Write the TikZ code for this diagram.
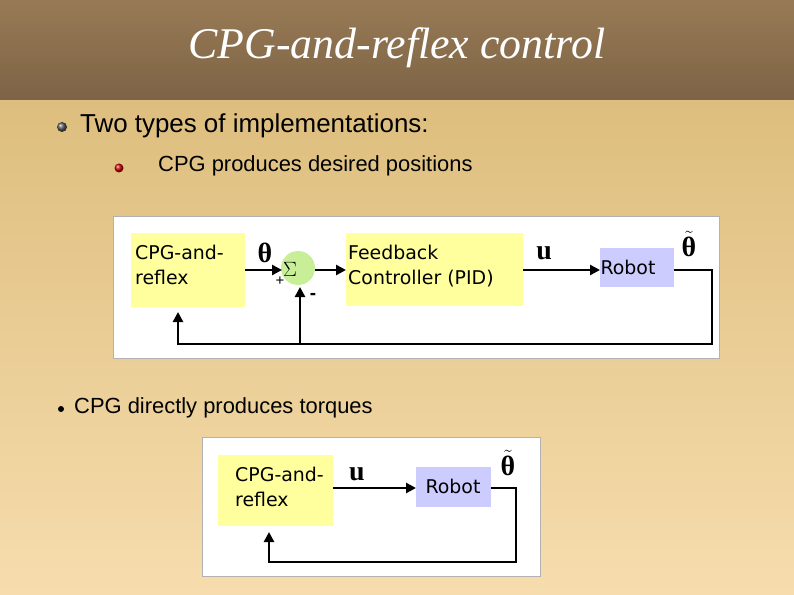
\documentclass[tikz,border=0pt]{standalone}
\usepackage{amsmath}
\usepackage{fontspec}
\setmainfont{Liberation Sans}
\newfontfamily\titlefont{Liberation Serif}
\newfontfamily\dvs{DejaVu Sans}
\usetikzlibrary{arrows.meta}
\definecolor{hdtop}{HTML}{987A55}
\definecolor{hdbot}{HTML}{7D6446}
\definecolor{bdtop}{HTML}{DDBE7E}
\definecolor{bdbot}{HTML}{F7DDAE}
\definecolor{boxy}{HTML}{FFFF9E}
\definecolor{sumg}{HTML}{C8EE98}
\definecolor{robb}{HTML}{CCCCFF}
\newcommand{\thb}{\text{\titlefont\bfseries θ}}
\tikzset{
  blk/.style={inner sep=0pt,font=\dvs\fontsize{19}{25}\selectfont,align=left},
  sig/.style={line width=2.6pt,-{Triangle[length=10bp,width=10bp]}},
  wire/.style={line width=2.6pt},
  lab/.style={font=\titlefont\bfseries\fontsize{28}{28}\selectfont},
  panel/.style={fill=white,draw=gray!60,line width=1pt}
}
\begin{document}
\begin{tikzpicture}[x=1bp,y=-1bp]
\useasboundingbox (0,0) rectangle (794,595);
\shade[top color=bdtop,bottom color=bdbot] (0,100) rectangle (794,595);
\shade[top color=hdtop,bottom color=hdbot] (0,0) rectangle (794,100);
\node[text=white,font=\titlefont\itshape\fontsize{44}{44}\selectfont] (title) at (397,48) {CPG-and-reflex control};
% bullets
\shade[ball color=gray!70!black] (62,127) circle (5);
\node[anchor=west,inner sep=0pt,font=\fontsize{26}{26}\selectfont] (b1) at (80,126) {Two types of implementations:};
\shade[ball color=red!80!black] (119,168) circle (4.5);
\node[anchor=west,inner sep=0pt,font=\fontsize{22}{22}\selectfont] (b2) at (158,166) {CPG produces desired positions};
\fill (61,409) circle (3);
\node[anchor=west,inner sep=0pt,font=\fontsize{22}{22}\selectfont] (b3) at (74,408) {CPG directly produces torques};
% diagram 1
\draw[panel] (113,216) rectangle (719,358);
\fill[boxy] (131,233) rectangle (245,307);
\node[blk,anchor=north west] (cpg1) at (135,245) {CPG-and-\\reflex};
\coordinate (cpg1r) at (245,270);
\coordinate (cpg1b) at (178,312);
\fill[sumg] (298,268) circle (17);
\node[inner sep=0pt,font=\fontsize{22}{22}\selectfont] (sum) at (290,269) {$\Sigma$};
\node[font=\fontsize{15}{15}\selectfont] (plus) at (280,281) {+};
\node[font=\bfseries\fontsize{19}{19}\selectfont] (minus) at (313,296) {-};
\fill[boxy] (346,233) rectangle (523,306);
\node[blk,anchor=north west] (fb) at (348,245) {Feedback\\Controller (PID)};
\fill[robb] (600,248) rectangle (674,287);
\node[blk] (rob1) at (628,267) {Robot};
\node[lab] (th) at (265,253) {$\thb$};
\node[lab] (u1) at (544,253) {u};
\node[lab] (tth) at (689,244) {$\tilde{\thb}$};
\draw[sig] (cpg1r) -- (282,270);
\draw[sig] (315,270) -- (346,270);
\draw[sig] (523,270) -- (600,270);
\draw[wire] (674,270) -- (712,270) -- (712,344) -- (178,344);
\draw[sig] (178,345) -- (cpg1b);
\draw[sig] (300,344) -- (300,287);
% diagram 2
\draw[panel] (202,437) rectangle (540,576);
\fill[boxy] (218,455) rectangle (333,526);
\node[blk,anchor=north west] (cpg2) at (235,467) {CPG-and-\\reflex};
\fill[robb] (416,467) rectangle (491,507);
\node[blk] (rob2) at (453,486) {Robot};
\node[lab] (u2) at (357,474) {u};
\node[lab] (tth2) at (508,463) {$\tilde{\thb}$};
\draw[sig] (333,488) -- (416,488);
\draw[wire] (491,488) -- (516,488) -- (516,562) -- (269,562);
\draw[sig] (269,563) -- (269,532);
\end{tikzpicture}
\end{document}
